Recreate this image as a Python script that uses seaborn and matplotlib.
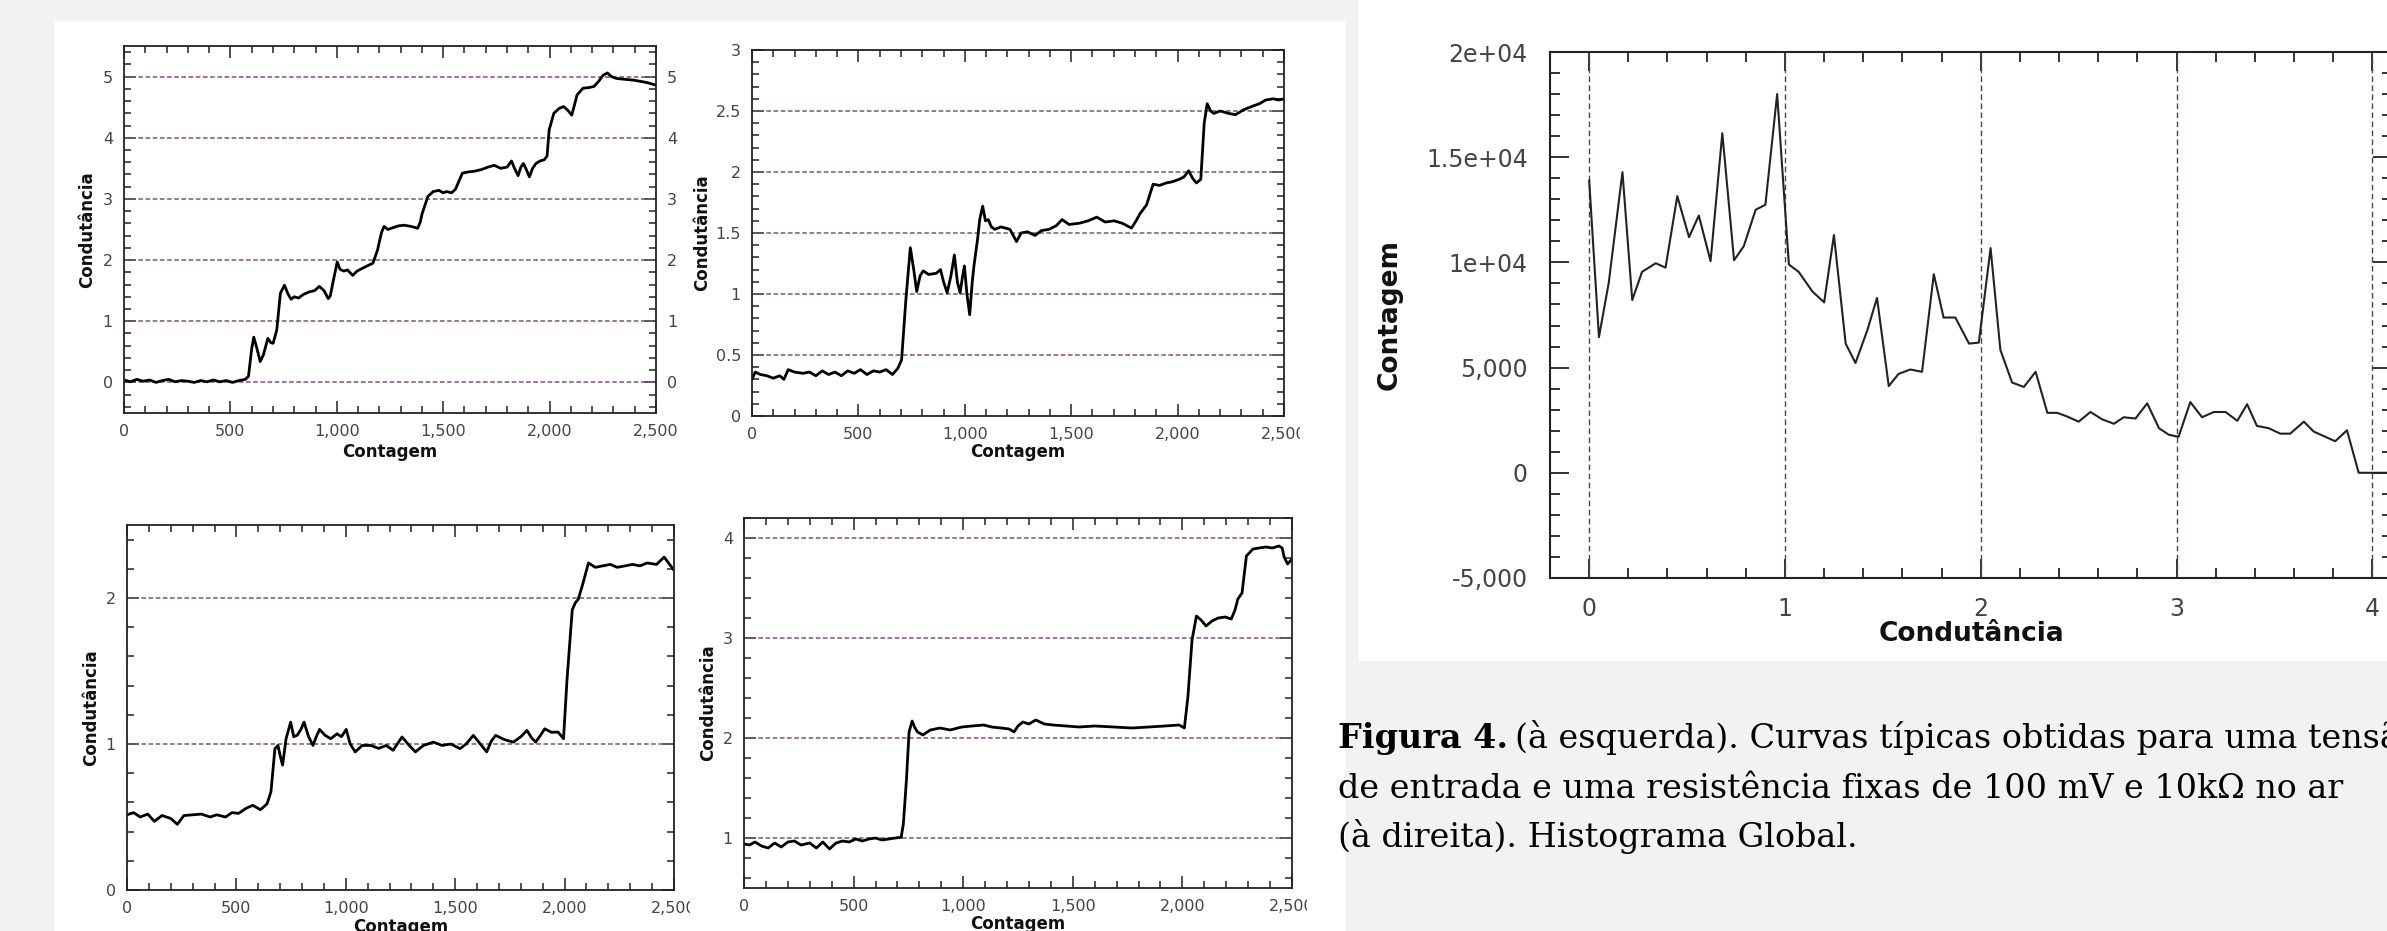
import numpy as np
import pandas as pd
import seaborn as sns
import matplotlib.pyplot as plt
from matplotlib.ticker import MultipleLocator
from matplotlib.patches import Rectangle

# ---- traces (Contagem vs Condutância) ----
tl_x = [0, 30, 60, 90, 120, 150, 180, 210, 240, 270, 300, 330, 360, 390, 420, 450, 480, 510, 540, 570,
        585, 600, 610, 625, 640, 655, 676, 690, 701, 718, 735, 754, 770, 785, 800, 820, 844, 870, 895, 918,
        940, 960, 970, 981, 1002, 1015, 1033, 1050, 1075, 1095, 1117, 1140, 1170, 1191, 1210, 1222, 1240,
        1264, 1290, 1317, 1350, 1380, 1392, 1401, 1428, 1453, 1480, 1500, 1516, 1540, 1558, 1575, 1590,
        1615, 1642, 1680, 1710, 1740, 1770, 1800, 1821, 1835, 1852, 1865, 1877, 1892, 1905, 1920, 1936,
        1955, 1975, 1988, 1998, 2020, 2045, 2066, 2085, 2104, 2118, 2129, 2157, 2185, 2209, 2230, 2251,
        2272, 2290, 2314, 2340, 2370, 2398, 2430, 2460, 2480, 2500]
tl_y = [0.04, 0.01, 0.05, 0.02, 0.04, 0.00, 0.03, 0.05, 0.01, 0.03, 0.02, 0.00, 0.03, 0.01, 0.04, 0.01,
        0.03, 0.00, 0.03, 0.05, 0.10, 0.55, 0.74, 0.55, 0.34, 0.45, 0.72, 0.65, 0.64, 0.86, 1.46, 1.59,
        1.45, 1.36, 1.40, 1.38, 1.44, 1.48, 1.50, 1.57, 1.50, 1.37, 1.42, 1.62, 1.97, 1.85, 1.82, 1.84,
        1.75, 1.82, 1.86, 1.90, 1.95, 2.16, 2.45, 2.55, 2.50, 2.53, 2.56, 2.57, 2.55, 2.52, 2.62, 2.76,
        3.04, 3.12, 3.14, 3.10, 3.12, 3.10, 3.16, 3.30, 3.42, 3.44, 3.45, 3.48, 3.52, 3.55, 3.50, 3.52,
        3.62, 3.50, 3.38, 3.52, 3.58, 3.47, 3.36, 3.50, 3.58, 3.62, 3.64, 3.70, 4.13, 4.40, 4.48, 4.51,
        4.45, 4.37, 4.55, 4.70, 4.81, 4.82, 4.84, 4.92, 5.02, 5.06, 5.00, 4.97, 4.96, 4.95, 4.94, 4.92,
        4.90, 4.88, 4.86]

tr_x = [0, 15, 40, 70, 100, 130, 150, 170, 200, 240, 270, 300, 330, 360, 390, 420, 450, 480, 510, 540,
        570, 600, 630, 660, 685, 703, 723, 744, 760, 774, 790, 805, 830, 866, 886, 900, 917, 935, 951,
        965, 978, 990, 998, 1010, 1023, 1035, 1043, 1060, 1070, 1084, 1097, 1110, 1125, 1141, 1170, 1212,
        1243, 1265, 1294, 1330, 1360, 1396, 1430, 1457, 1490, 1538, 1580, 1620, 1660, 1701, 1740, 1783,
        1805, 1824, 1854, 1885, 1915, 1946, 1975, 2007, 2030, 2052, 2070, 2088, 2109, 2125, 2139, 2155,
        2170, 2200, 2240, 2272, 2310, 2353, 2385, 2414, 2450, 2475, 2500]
tr_y = [0.30, 0.36, 0.34, 0.33, 0.31, 0.33, 0.30, 0.38, 0.36, 0.35, 0.36, 0.33, 0.37, 0.34, 0.36, 0.33,
        0.37, 0.35, 0.38, 0.34, 0.37, 0.36, 0.38, 0.34, 0.39, 0.46, 0.95, 1.38, 1.20, 1.02, 1.15, 1.19,
        1.16, 1.17, 1.20, 1.10, 1.01, 1.15, 1.32, 1.10, 1.01, 1.15, 1.23, 1.00, 0.83, 1.10, 1.23, 1.45,
        1.61, 1.72, 1.60, 1.61, 1.55, 1.53, 1.55, 1.53, 1.43, 1.50, 1.51, 1.48, 1.52, 1.53, 1.56, 1.61,
        1.57, 1.58, 1.60, 1.63, 1.59, 1.60, 1.58, 1.54, 1.60, 1.66, 1.73, 1.90, 1.89, 1.91, 1.92, 1.94,
        1.96, 2.01, 1.95, 1.91, 1.94, 2.40, 2.56, 2.50, 2.48, 2.50, 2.48, 2.47, 2.51, 2.54, 2.56, 2.59,
        2.60, 2.59, 2.60]

bl_x = [0, 30, 60, 95, 125, 160, 200, 230, 260, 300, 340, 380, 410, 450, 480, 510, 545, 575, 610, 640,
        658, 676, 690, 700, 711, 727, 748, 762, 778, 795, 809, 830, 850, 865, 880, 905, 931, 960, 980,
        1002, 1020, 1043, 1075, 1115, 1150, 1185, 1216, 1257, 1290, 1318, 1355, 1400, 1440, 1480, 1522,
        1550, 1583, 1615, 1644, 1665, 1685, 1725, 1766, 1800, 1828, 1850, 1868, 1890, 1909, 1940, 1970,
        1995, 2011, 2035, 2050, 2062, 2082, 2109, 2140, 2174, 2210, 2240, 2276, 2310, 2345, 2377, 2420,
        2455, 2475, 2500]
bl_y = [0.515, 0.53, 0.50, 0.52, 0.47, 0.51, 0.49, 0.45, 0.51, 0.515, 0.52, 0.50, 0.515, 0.50, 0.53,
        0.525, 0.56, 0.58, 0.55, 0.59, 0.673, 0.968, 0.99, 0.92, 0.855, 1.036, 1.15, 1.05, 1.06, 1.10,
        1.15, 1.05, 0.99, 1.05, 1.10, 1.06, 1.036, 1.07, 1.05, 1.10, 1.00, 0.946, 0.99, 0.99, 0.97, 0.99,
        0.957, 1.048, 0.99, 0.946, 0.99, 1.013, 0.99, 1.00, 0.968, 1.00, 1.059, 1.00, 0.946, 1.02, 1.059,
        1.03, 1.013, 1.05, 1.093, 1.04, 1.013, 1.06, 1.104, 1.08, 1.082, 1.036, 1.44, 1.92, 1.97, 1.99,
        2.09, 2.24, 2.21, 2.22, 2.23, 2.21, 2.22, 2.23, 2.22, 2.24, 2.23, 2.28, 2.24, 2.19]

br_x = [0, 25, 50, 80, 110, 140, 170, 200, 230, 260, 300, 330, 360, 390, 420, 450, 480, 510, 540, 570,
        600, 630, 660, 690, 717, 727, 741, 753, 767, 780, 792, 816, 850, 895, 940, 994, 1040, 1093, 1130,
        1173, 1210, 1232, 1250, 1272, 1300, 1331, 1370, 1410, 1470, 1529, 1600, 1688, 1770, 1846, 1920,
        1985, 2009, 2025, 2044, 2064, 2085, 2108, 2135, 2163, 2195, 2223, 2240, 2253, 2272, 2292, 2322,
        2350, 2381, 2410, 2441, 2455, 2464, 2480, 2500]
br_y = [0.94, 0.93, 0.96, 0.92, 0.90, 0.95, 0.91, 0.96, 0.97, 0.93, 0.95, 0.90, 0.96, 0.89, 0.95, 0.97,
        0.96, 0.99, 0.97, 0.99, 1.00, 0.98, 0.99, 1.00, 1.007, 1.14, 1.58, 2.06, 2.17, 2.10, 2.06, 2.03,
        2.08, 2.10, 2.08, 2.11, 2.12, 2.13, 2.11, 2.10, 2.09, 2.06, 2.12, 2.16, 2.14, 2.18, 2.14, 2.13,
        2.12, 2.11, 2.12, 2.11, 2.10, 2.11, 2.12, 2.13, 2.10, 2.41, 2.98, 3.22, 3.18, 3.12, 3.17, 3.20,
        3.21, 3.19, 3.28, 3.39, 3.45, 3.82, 3.89, 3.90, 3.91, 3.90, 3.92, 3.90, 3.81, 3.74, 3.79]

# ---- global histogram ----
hist_g = [0.00, 0.05, 0.10, 0.17, 0.22, 0.27, 0.34, 0.39, 0.45, 0.51, 0.56, 0.62, 0.68, 0.74, 0.79,
          0.85, 0.90, 0.96, 1.02, 1.07, 1.14, 1.20, 1.25, 1.31, 1.36, 1.42, 1.47, 1.53, 1.58, 1.64, 1.70,
          1.76, 1.81, 1.87, 1.94, 1.99, 2.05, 2.10, 2.16, 2.22, 2.28, 2.34, 2.39, 2.44, 2.50, 2.56, 2.62,
          2.68, 2.73, 2.79, 2.85, 2.91, 2.96, 3.01, 3.07, 3.13, 3.19, 3.25, 3.31, 3.36, 3.41, 3.47, 3.53,
          3.58, 3.65, 3.70, 3.76, 3.81, 3.87, 3.93, 4.00, 4.10]
hist_n = [13900, 6450, 9030, 14290, 8210, 9550, 9960, 9750, 13150, 11200, 12230, 10060, 16140, 10100,
          10780, 12500, 12740, 18000, 9900, 9550, 8620, 8100, 11300, 6140, 5220, 6760, 8310, 4120, 4700,
          4910, 4800, 9440, 7380, 7380, 6140, 6190, 10680, 5840, 4290, 4080, 4800, 2850, 2850, 2680, 2430,
          2890, 2540, 2330, 2640, 2580, 3300, 2120, 1810, 1710, 3360, 2640, 2890, 2890, 2470, 3260, 2230,
          2120, 1860, 1860, 2430, 1960, 1710, 1500, 2020, 0, 0, 0]

W, H = 2387, 931
GRAY = '#f2f2f2'
DASH = '#7f5081'

sns.set_style('ticks')
plt.rcParams['font.family'] = ['DejaVu Sans']


def box(l, t, r, b):
    return [l / W, 1 - b / H, (r - l) / W, (b - t) / H]


def panel(fig, l, t, r, b, color, z):
    fig.add_artist(Rectangle((l / W, 1 - b / H), (r - l) / W, (b - t) / H,
                             transform=fig.transFigure, facecolor=color,
                             edgecolor='none', zorder=z))


def trace_panel(ax, x, y, ylim, yticks, ylabels, yminor, levels, lab_x, lab_y, right=False):
    df = pd.DataFrame({'Contagem': x, 'Condutância': y})
    for v in levels:
        ax.axhline(v, color=DASH, ls=(0, (3, 1.7)), lw=1.1, zorder=1)
    sns.lineplot(data=df, x='Contagem', y='Condutância', ax=ax, color='black',
                 lw=2.0, estimator=None, sort=False, zorder=2)
    ax.set_xlim(0, 2500)
    ax.set_ylim(*ylim)
    ax.set_xticks([0, 500, 1000, 1500, 2000, 2500])
    ax.set_xticklabels(['0', '500', '1,000', '1,500', '2,000', '2,500'])
    ax.xaxis.set_minor_locator(MultipleLocator(100))
    ax.set_yticks(yticks)
    ax.set_yticklabels(ylabels)
    ax.yaxis.set_minor_locator(MultipleLocator(yminor))
    ax.tick_params(which='both', direction='in', top=True, right=True, width=1.1,
                   color='#222222', labelsize=11.5, labelcolor='#444444', pad=8,
                   labelright=right)
    ax.tick_params(which='major', length=8.5)
    ax.tick_params(which='minor', length=5)
    for s in ax.spines.values():
        s.set_linewidth(1.3)
        s.set_color('#222222')
    ax.set_xlabel('Contagem', weight='bold', fontsize=12, va='center', color='#111111')
    ax.set_ylabel('Condutância', weight='bold', fontsize=12, va='center', color='#111111')
    ax.xaxis.set_label_coords(0.5, lab_y)
    ax.yaxis.set_label_coords(lab_x, 0.5)


fig = plt.figure(figsize=(W / 100, H / 100), dpi=100, facecolor=GRAY)
panel(fig, 55, 21, 1345, 931, 'white', -5)
panel(fig, 1359, 0, 2387, 661, 'white', -5)

ax1 = fig.add_axes(box(124, 46, 656, 413))
trace_panel(ax1, tl_x, tl_y, (-0.5, 5.5), [0, 1, 2, 3, 4, 5], ['0', '1', '2', '3', '4', '5'],
            0.2, [0, 1, 2, 3, 4, 5], -0.0695, -0.106, right=True)

ax2 = fig.add_axes(box(752, 50, 1284, 416))
trace_panel(ax2, tr_x, tr_y, (0, 3), [0, 0.5, 1, 1.5, 2, 2.5, 3],
            ['0', '0.5', '1', '1.5', '2', '2.5', '3'], 0.1, [0.5, 1, 1.5, 2, 2.5], -0.094, -0.098)

ax3 = fig.add_axes(box(127, 525, 674, 890))
trace_panel(ax3, bl_x, bl_y, (0, 2.5), [0, 1, 2], ['0', '1', '2'], 0.2, [1, 2], -0.066, -0.101)

ax4 = fig.add_axes(box(744, 518, 1292, 888))
trace_panel(ax4, br_x, br_y, (0.5, 4.2), [1, 2, 3, 4], ['1', '2', '3', '4'], 0.2, [1, 2, 3, 4],
            -0.066, -0.097)

# crops of the pasted screenshots
panel(fig, 1300, 418, 1345, 472, 'white', 3)
panel(fig, 1307, 893, 1345, 931, 'white', 3)
panel(fig, 690, 893, 735, 931, 'white', 3)

# ---- histogram ----
ax5 = fig.add_axes(box(1550, 52, 2392, 578))
for v in [0, 1, 2, 3, 4]:
    ax5.axvline(v, color='#5b3a5e', ls=(0, (4, 2.5)), lw=1.0, zorder=1)
sns.lineplot(x=hist_g, y=hist_n, ax=ax5, color='#222222', lw=1.5, estimator=None, sort=False)
ax5.set_xlim(-0.2, 4.1)
ax5.set_ylim(-5000, 20000)
ax5.set_xticks([0, 1, 2, 3, 4])
ax5.xaxis.set_minor_locator(MultipleLocator(0.2))
ax5.set_yticks([-5000, 0, 5000, 10000, 15000, 20000])
ax5.set_yticklabels(['-5,000', '0', '5,000', '1e+04', '1.5e+04', '2e+04'])
ax5.yaxis.set_minor_locator(MultipleLocator(1000))
ax5.tick_params(which='both', direction='in', top=True, right=True, width=1.3,
                color='#222222', labelsize=17, labelcolor='#444444')
ax5.tick_params(axis='x', pad=14)
ax5.tick_params(axis='y', pad=16)
ax5.tick_params(which='major', length=14)
ax5.tick_params(which='minor', length=7.5)
for s in ax5.spines.values():
    s.set_linewidth(1.5)
    s.set_color('#222222')
ax5.set_xlabel('Condutância', weight='bold', fontsize=19, va='center', color='#111111')
ax5.set_ylabel('Contagem', weight='bold', fontsize=19, va='center', color='#111111')
ax5.xaxis.set_label_coords(0.5, -0.1065)
ax5.yaxis.set_label_coords(-0.191, 0.5)

# ---- caption ----
cap = dict(family=['DejaVu Serif'], fontsize=24, color='black', zorder=6)
x0 = 1338 / W
t1 = fig.text(x0, 1 - 748 / H, 'Figura 4.', weight='bold', **cap)
fig.canvas.draw()
ext = t1.get_window_extent()
fig.text(ext.x1 / W + 0.003, 1 - 748 / H,
         '(à esquerda). Curvas típicas obtidas para uma tensão', **cap)
fig.text(x0, 1 - 798 / H, 'de entrada e uma resistência fixas de 100 mV e 10kΩ no ar', **cap)
fig.text(x0, 1 - 847 / H, '(à direita). Histograma Global.', **cap)

fig.savefig('out.png', dpi=100, facecolor=GRAY)
